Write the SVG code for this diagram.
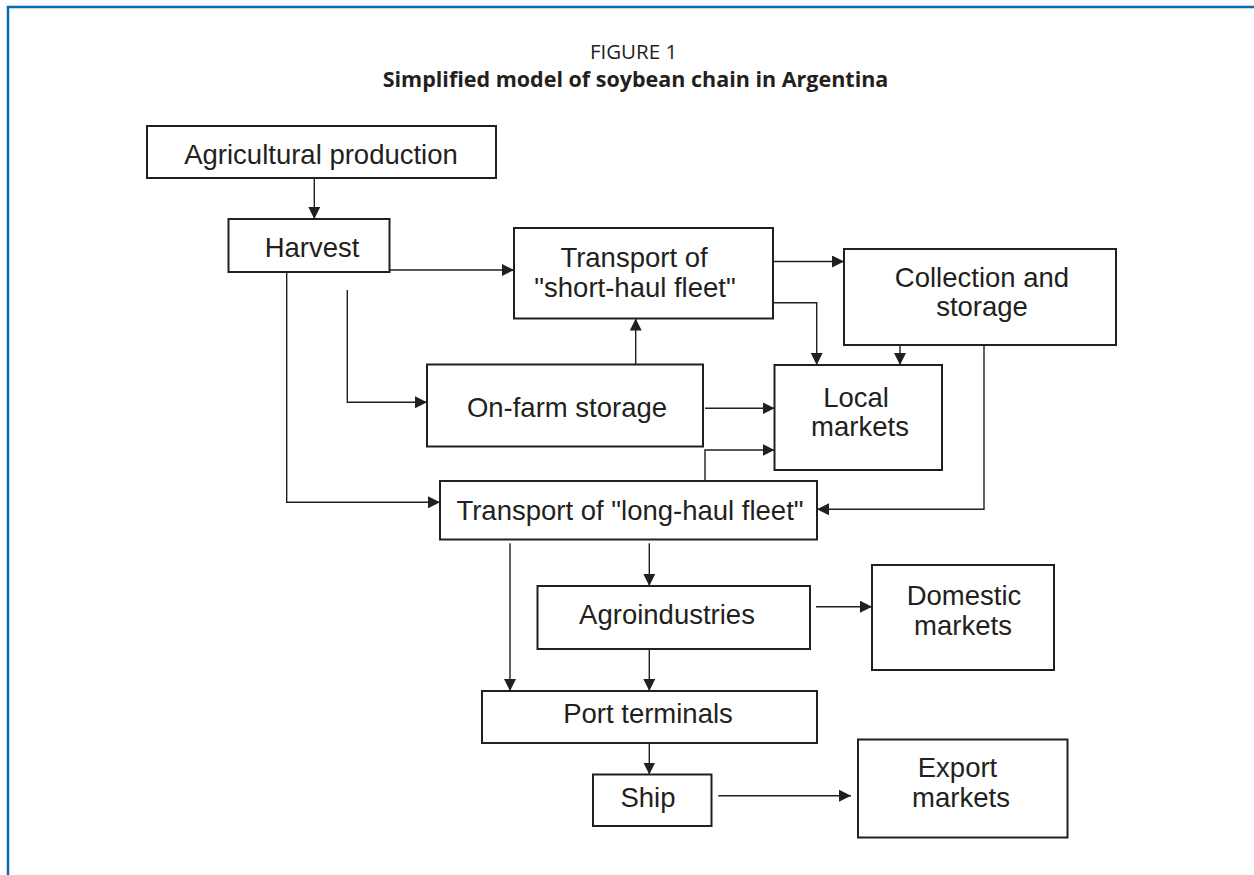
<svg xmlns="http://www.w3.org/2000/svg" width="1254" height="875" viewBox="0 0 1254 875">
<style>
.box{fill:#fff;stroke:#231f20;stroke-width:2}
.lbl{font-family:"Liberation Sans",Arial,sans-serif;font-size:27.5px;fill:#231f20;text-anchor:middle}
.con{fill:none;stroke:#231f20;stroke-width:1.4;marker-end:url(#ah)}
.ttl{font-family:"Open Sans","Noto Sans",sans-serif;fill:#231f20;text-anchor:middle}
</style>
<defs>
<marker id="ah" viewBox="0 0 12 12" refX="12" refY="6" markerWidth="12" markerHeight="12" markerUnits="userSpaceOnUse" orient="auto">
<path d="M0,0 L12,6 L0,12 z" fill="#231f20"/>
</marker>
</defs>
<rect width="1254" height="875" fill="#fff"/>
<path d="M8,875 V7 H1254" fill="none" stroke="#0b6db0" stroke-width="2.5"/>
<g id="title">
<text class="ttl" x="633.5" y="58.5" font-size="20.5">FIGURE 1</text>
<text class="ttl" x="635.5" y="86.5" font-size="21.5" font-weight="bold">Simplified model of soybean chain in Argentina</text>
</g>
<g id="connectors">
<path class="con" d="M314.3,178 V219"/>
<path class="con" d="M389.5,270 H514"/>
<path class="con" d="M286.7,272 V502.3 H440"/>
<path class="con" d="M347.3,290 V402.3 H427"/>
<path class="con" d="M635.7,364.5 V318.5"/>
<path class="con" d="M773,261.5 H844"/>
<path class="con" d="M773,302.7 H816.7 V365"/>
<path class="con" d="M900,324 V365"/>
<path class="con" d="M984,324 V509.3 H817"/>
<path class="con" d="M705,408.3 H774.5"/>
<path class="con" d="M705,481 V450 H774.5"/>
<path class="con" d="M510,543.3 V691"/>
<path class="con" d="M649.3,543.3 V586"/>
<path class="con" d="M649.3,649 V691"/>
<path class="con" d="M816,606.7 H872"/>
<path class="con" d="M649.3,732.7 V774.5"/>
<path class="con" d="M718.3,795.7 H851"/>
</g>
<g id="agricultural-production">
<rect class="box" x="147" y="126" width="349" height="52"/>
<text class="lbl" x="321" y="163.5">Agricultural production</text>
</g>
<g id="harvest">
<rect class="box" x="228.5" y="219" width="161" height="53"/>
<text class="lbl" x="312" y="256.7">Harvest</text>
</g>
<g id="transport-short-haul">
<rect class="box" x="514" y="228" width="259" height="90.5"/>
<text class="lbl" x="634" y="267.3">Transport of</text>
<text class="lbl" x="635" y="296.7">"short-haul fleet"</text>
</g>
<g id="collection-storage">
<rect class="box" x="844" y="249" width="272" height="96"/>
<text class="lbl" x="982" y="286.7">Collection and</text>
<text class="lbl" x="982" y="315.5">storage</text>
</g>
<g id="on-farm-storage">
<rect class="box" x="427" y="364.5" width="276" height="82"/>
<text class="lbl" x="567" y="417.3">On-farm storage</text>
</g>
<g id="local-markets">
<rect class="box" x="774.5" y="365" width="167.5" height="105"/>
<text class="lbl" x="856" y="406.7">Local</text>
<text class="lbl" x="860" y="436">markets</text>
</g>
<g id="transport-long-haul">
<rect class="box" x="440" y="481" width="377" height="58.5"/>
<text class="lbl" x="630" y="520">Transport of "long-haul fleet"</text>
</g>
<g id="agroindustries">
<rect class="box" x="537.5" y="586" width="272.5" height="63"/>
<text class="lbl" x="667" y="624">Agroindustries</text>
</g>
<g id="domestic-markets">
<rect class="box" x="872" y="565" width="182" height="105"/>
<text class="lbl" x="964" y="605">Domestic</text>
<text class="lbl" x="963" y="635">markets</text>
</g>
<g id="port-terminals">
<rect class="box" x="482" y="691" width="335" height="52"/>
<text class="lbl" x="648" y="723.3">Port terminals</text>
</g>
<g id="ship">
<rect class="box" x="593" y="774.5" width="118.5" height="51.5"/>
<text class="lbl" x="648" y="806.7">Ship</text>
</g>
<g id="export-markets">
<rect class="box" x="858" y="739.5" width="209.5" height="98"/>
<text class="lbl" x="957.5" y="777.3">Export</text>
<text class="lbl" x="961" y="806.7">markets</text>
</g>
</svg>
